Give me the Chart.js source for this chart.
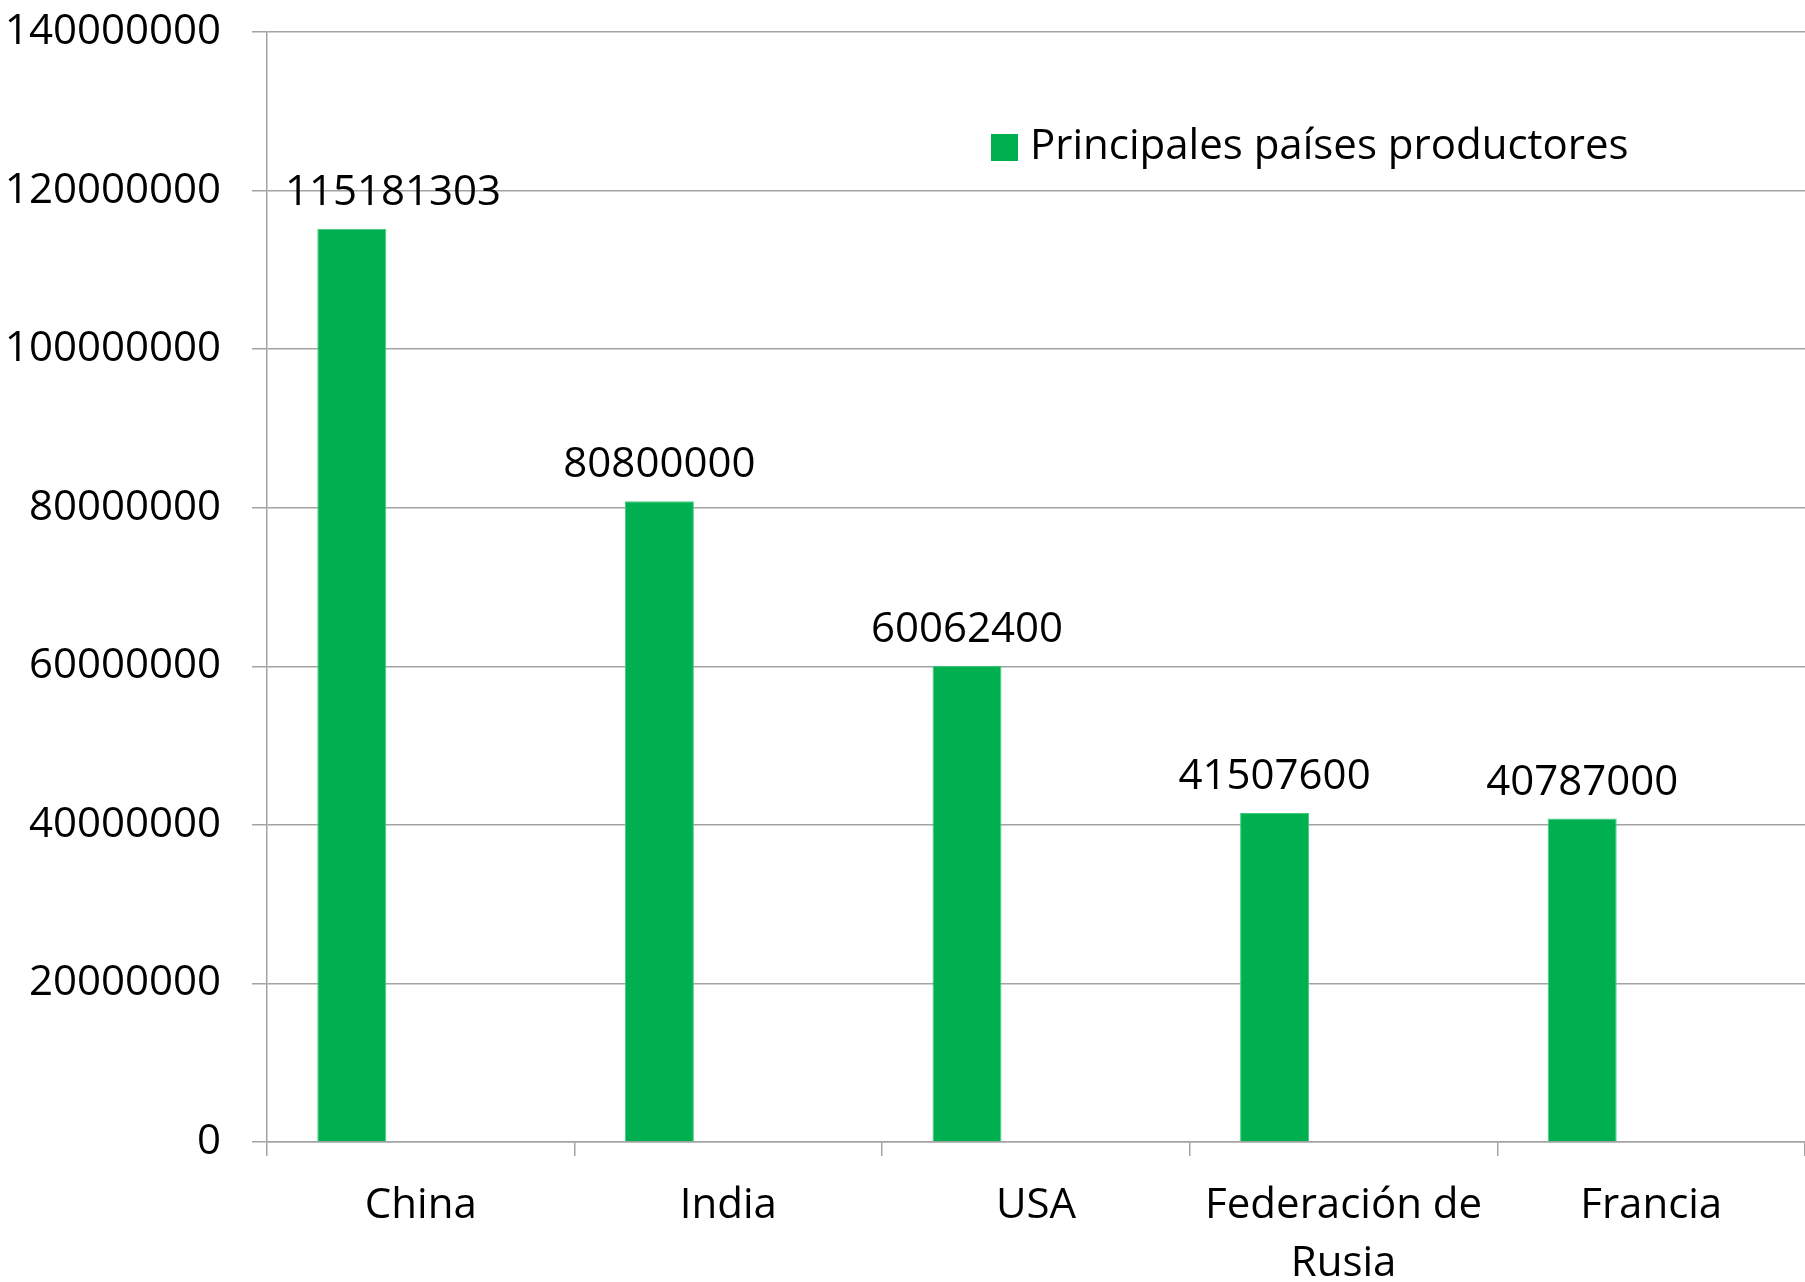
<!DOCTYPE html>
<html lang="es">
<head>
    <meta charset="UTF-8">
    <meta name="viewport" content="width=device-width, initial-scale=1.0">
    <title>Principales países productores</title>
    <script src="https://cdn.jsdelivr.net/npm/chart.js"></script>
    <style>
        html, body { margin: 0; padding: 0; background: #fff; }
        .chart-container { position: relative; width: 1805px; height: 1282px; }
    </style>
</head>
<body>
    <div class="chart-container">
        <canvas id="productionChart"></canvas>
    </div>

    <script>
        // Datos
        const categories = ['China', 'India', 'USA', ['Federación de', 'Rusia'], 'Francia'];
        const produccion = [115181303, 80800000, 60062400, 41507600, 40787000];
        const yTicks = [0, 20000000, 40000000, 60000000, 80000000, 100000000, 120000000, 140000000];
        const seriesLabel = 'Principales países productores';

        const FONT = '"Open Sans", "Liberation Sans", sans-serif';
        const GREEN = '#00B050';
        const GRID = '#a3a3a3';

        // Etiquetas de valor encima de cada barra
        const valueLabels = {
            id: 'valueLabels',
            afterDatasetsDraw(chart) {
                const ctx = chart.ctx;
                const area = chart.chartArea;
                const meta = chart.getDatasetMeta(0);
                ctx.save();
                ctx.font = '42px ' + FONT;
                ctx.fillStyle = '#000';
                ctx.textBaseline = 'middle';
                ctx.textAlign = 'left';
                meta.data.forEach((bar, i) => {
                    const text = String(produccion[i]);
                    const w = ctx.measureText(text).width;
                    let x = bar.x - w / 2;
                    if (x < area.left + 18) x = area.left + 18;
                    ctx.fillText(text, x, bar.y - 36);
                });
                ctx.restore();
            }
        };

        // Leyenda dentro del área del gráfico
        const insideLegend = {
            id: 'insideLegend',
            afterDraw(chart) {
                const ctx = chart.ctx;
                const area = chart.chartArea;
                const x = area.left + 724;
                const y = area.top + 115;
                ctx.save();
                ctx.fillStyle = GREEN;
                ctx.fillRect(x, y - 13, 27, 27);
                ctx.font = '42px ' + FONT;
                ctx.fillStyle = '#000';
                ctx.textBaseline = 'middle';
                ctx.textAlign = 'left';
                ctx.fillText(chart.data.datasets[0].label, x + 39, y);
                ctx.restore();
            }
        };

        new Chart('productionChart', {
            type: 'bar',
            data: {
                labels: categories,
                datasets: [
                    { label: seriesLabel, data: produccion, backgroundColor: GREEN, borderColor: '#3fcf7f', borderWidth: 1 },
                    { label: '', data: [] },
                    { label: '', data: [] }
                ]
            },
            options: {
                responsive: true,
                maintainAspectRatio: false,
                animation: false,
                categoryPercentage: 0.673,
                barPercentage: 1,
                layout: { padding: { top: 32, right: 0, left: 0, bottom: 0 } },
                plugins: {
                    legend: { display: false },
                    tooltip: { enabled: false }
                },
                scales: {
                    x: {
                        grid: { drawOnChartArea: false, tickLength: 14, color: GRID, lineWidth: 1.5, offset: true },
                        border: { color: GRID, width: 1.5 },
                        ticks: { color: '#000', padding: 21, font: { family: FONT, size: 42, lineHeight: 1.38 } },
                        afterFit(scale) {
                            scale.height = 140;
                            scale.paddingLeft = 0;
                            scale.paddingRight = 0;
                        }
                    },
                    y: {
                        min: 0,
                        max: 140000000,
                        grid: { tickLength: 15, color: GRID, lineWidth: 1.5 },
                        border: { color: GRID, width: 1.5 },
                        ticks: {
                            color: '#000',
                            padding: 31,
                            font: { family: FONT, size: 42 },
                            callback: v => String(v)
                        },
                        afterBuildTicks(scale) { scale.ticks = yTicks.map(v => ({ value: v })); },
                        afterFit(scale) {
                            scale.width = 267;
                            scale.paddingTop = 0;
                            scale.paddingBottom = 0;
                        }
                    }
                }
            },
            plugins: [valueLabels, insideLegend]
        });
    </script>
</body>
</html>
